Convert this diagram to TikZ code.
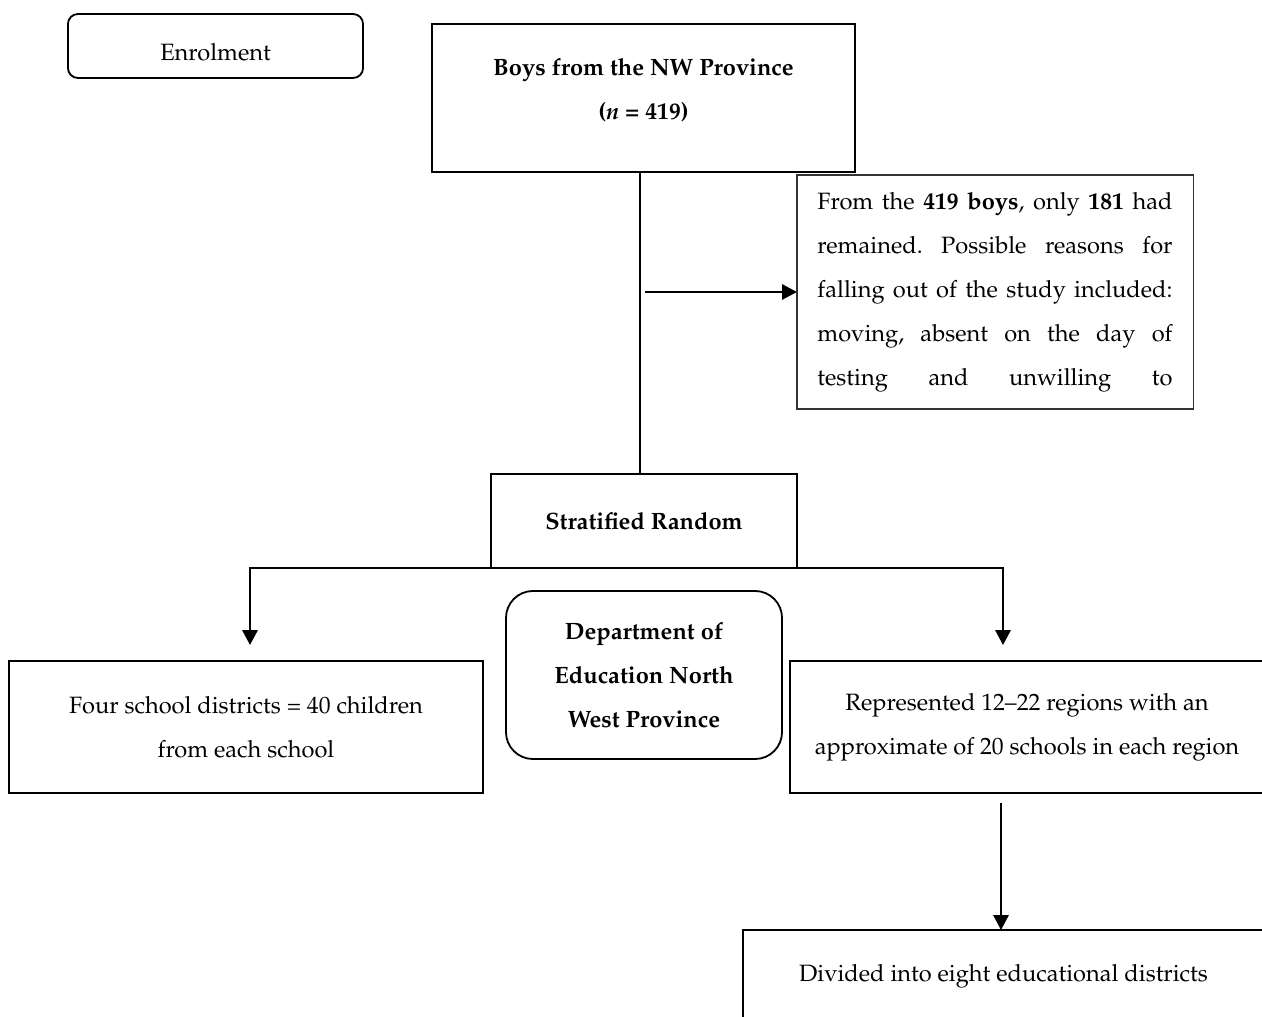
\documentclass[tikz,border=0pt]{standalone}
\usepackage[T1]{fontenc}
\usepackage{mathpazo}
\usetikzlibrary{arrows.meta}
\frenchspacing
\begin{document}
\begin{tikzpicture}[x=0.025cm, y=-0.025cm]
\tikzset{ >={Triangle[length=0.37cm, width=0.38cm]}, inner sep=0pt, outer sep=0pt,
  box/.style={draw, line width=1.3pt, align=center, font=\fontsize{16.8}{31.3}\selectfont},
  boldbox/.style={box, font=\fontsize{16.8}{31.3}\selectfont\bfseries},
  notebox/.style={draw=black!80, line width=0.8pt, font=\fontsize{16.8}{31.3}\selectfont},
  link/.style={line width=1.4pt},
}
%\draw [lightgray, dashed](0,0) grid[step=100] (1262,1017);
\useasboundingbox (0,0) rectangle (1262,1017);
\clip (0,0) rectangle (1262,1017);

\node [box, rounded corners=0.25cm, minimum width=7.375cm, minimum height=1.6cm, text height=0.7cm, text depth=0pt] (Enrol) at (215.5,46) {Enrolment};
\node [boldbox, minimum width=10.575cm, minimum height=3.7cm, text depth=0.45cm] (Boys) at (643.5,98) {Boys from the NW Province\\(\textit{n} = 419)};
\node [notebox, minimum width=9.9cm, minimum height=5.85cm] (Drop) at (995,292)
      {\parbox{8.875cm}{\parfillskip=0pt From the \textbf{419 boys}, only \textbf{181} had\linebreak
       remained. Possible reasons for\linebreak
       falling out of the study included:\linebreak
       moving, absent on the day of\linebreak
       testing and unwilling to}};
\node [boldbox, minimum width=7.65cm, minimum height=2.35cm] (Strat) at (644,521) {Stratified Random};
\node [boldbox, rounded corners=0.675cm, minimum width=6.9cm, minimum height=4.2cm] (Dept) at (644,675) {Department of\\Education North\\West Province};
\node [box, minimum width=11.85cm, minimum height=3.3cm] (Four) at (246,727) {Four school districts = 40 children\\from each school};
\node [box, minimum width=11.85cm, minimum height=3.3cm] (Regions) at (1027,727) {Represented 12--22 regions with an\\approximate of 20 schools in each region};
\node [box, minimum width=13.025cm, minimum height=2.3cm] (Eight) at (1003.5,976) {Divided into eight educational districts};

\coordinate (Trunk) at (640,0);
\coordinate (Down) at (1001,0);
\coordinate (Split) at (645,292);
\coordinate (Ltip) at (250,645);
\coordinate (Rtip) at (1003,645);

\draw [link] (Boys.south -| Trunk) -- (Strat.north -| Trunk);
\draw [link, ->] (Split) -- (Drop);
\draw [link, ->] (Strat.south) -| (Ltip);
\draw [link, ->] (Strat.south) -| (Rtip);
\draw [link, ->, shorten <=0.25cm] (Regions.south -| Down) -- (Eight.north -| Down);

\end{tikzpicture}
\end{document}
